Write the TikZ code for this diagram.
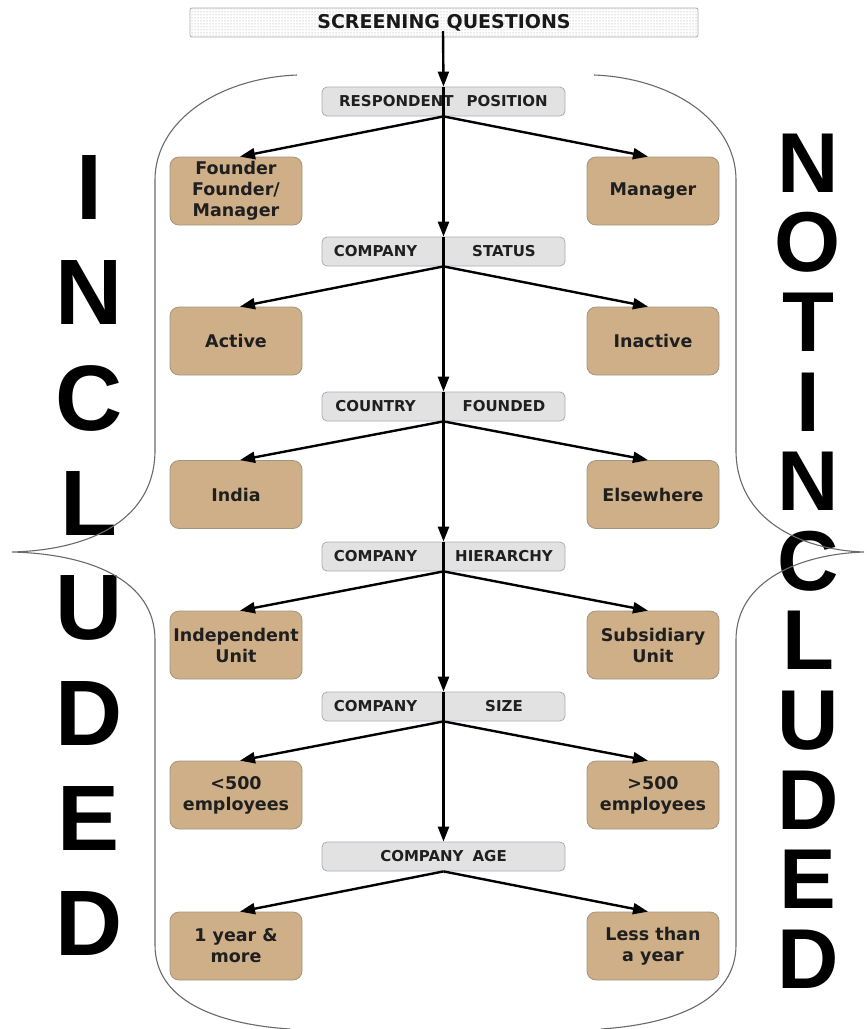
\documentclass[tikz,border=0pt]{standalone}
\usepackage{fontspec}
\setmainfont{DejaVu Sans}
\newfontfamily\letterfont{Liberation Sans}
\usetikzlibrary{arrows.meta,patterns}

\definecolor{kraft}{HTML}{CEAF88}
\definecolor{kraftedge}{HTML}{A39480}
\definecolor{qfill}{HTML}{E2E2E2}
\definecolor{qedge}{HTML}{A8AEB6}
\definecolor{braceline}{HTML}{6A6A6A}

% two words placed in the left and right halves of a question box
\newcommand\splitlabel[2]{\makebox[107pt]{#1}\hspace{14pt}\makebox[122pt]{#2}}

\begin{document}
\begin{tikzpicture}[x=1pt,y=-1pt,
  titlebox/.style={draw=qedge, line width=0.8pt, rounded corners=2pt,
    preaction={fill=white}, pattern=dots, pattern color=black!40,
    minimum width=508pt, minimum height=29pt, inner sep=0pt,
    font=\bfseries\fontsize{19}{19}\selectfont, text=black!90},
  qbox/.style={draw=qedge, line width=0.8pt, fill=qfill, rounded corners=5pt,
    minimum width=243pt, minimum height=29pt, inner sep=0pt,
    font=\bfseries\fontsize{15}{15}\selectfont, text=black!88},
  choice/.style={draw=kraftedge, line width=0.8pt, fill=kraft, rounded corners=9pt,
    minimum width=132pt, minimum height=68pt, inner sep=0pt, align=center,
    font=\bfseries\fontsize{17.5}{21}\selectfont, text=black!88},
  conn/.style={line width=2.4pt, -{Triangle[length=15pt,width=11pt]}},
  trunk/.style={line width=2.6pt},
  bigleft/.style={inner sep=0pt, font=\letterfont\bfseries\fontsize{93}{93}\selectfont},
  bigright/.style={inner sep=0pt, font=\letterfont\bfseries\fontsize{85}{85}\selectfont},
  brace/.style={draw=braceline, line width=1.1pt}
]
\useasboundingbox (0,0) rectangle (867,1029);

% vertical captions
\foreach \ch [count=\i from 0] in {I,N,C,L,U,D,E,D}
  \node[bigleft] (inc\i) at (89,{188+105*\i}) {\ch};
\foreach \ch [count=\i from 0] in {N,O,T,I,N,C,L,U,D,E,D}
  \node[bigright] (ninc\i) at (808,{163+79.6*\i}) {\ch};

% curly braces
\draw[brace] (297,75) .. controls (220,78) and (155,120) .. (155,180)
  -- (155,450) .. controls (155,520) and (90,550) .. (12,552)
  .. controls (90,554) and (155,580) .. (155,640)
  -- (155,945) .. controls (155,1000) and (215,1024) .. (290,1029);
\draw[brace] (594,75) .. controls (671,78) and (736,120) .. (736,180)
  -- (736,450) .. controls (736,520) and (801,550) .. (864,552)
  .. controls (801,554) and (736,580) .. (736,640)
  -- (736,945) .. controls (736,1000) and (676,1024) .. (601,1029);

% title
\node[titlebox] (sq) at (444,22.5) {SCREENING QUESTIONS};
\coordinate (s0) at ([yshift=-8.5pt]sq.center -| 443,0);

% questions
\node[qbox] (rp) at (443.5,101.5) {RESPONDENT\hspace{13pt}POSITION\hspace{7pt}};
\node[qbox] (cs) at (443.5,251.5) {\splitlabel{COMPANY}{STATUS}};
\node[qbox] (cf) at (443.5,406.5) {\splitlabel{COUNTRY}{FOUNDED}};
\node[qbox] (ch) at (443.5,556.5) {\splitlabel{COMPANY}{HIERARCHY}};
\node[qbox] (cz) at (443.5,706.5) {\splitlabel{COMPANY}{SIZE}};
\node[qbox] (ca) at (443.5,856.5) {COMPANY\hspace{9pt}AGE};

% answers
\node[choice] (fo) at (236,191) {Founder\\Founder/\\Manager};
\node[choice] (ma) at (653,191) {Manager};
\node[choice] (ac) at (236,341) {Active};
\node[choice] (in) at (653,341) {Inactive};
\node[choice] (ind) at (236,494.5) {India};
\node[choice] (el) at (653,494.5) {Elsewhere};
\node[choice] (iu) at (236,645) {Independent\\Unit};
\node[choice] (su) at (653,645) {Subsidiary\\Unit};
\node[choice] (lt) at (236,795) {<500\\employees};
\node[choice] (gt) at (653,795) {>500\\employees};
\node[choice] (oy) at (236,946) {1 year \&\\more};
\node[choice] (ly) at (653,946) {Less than\\a year};

% main trunk
\draw[conn] (s0) -- (rp.north);
\draw[trunk] (rp.north) -- (rp.south);
\draw[conn] (rp.south) -- (cs.north);
\draw[trunk] (cs.north) -- (cs.south);
\draw[conn] (cs.south) -- (cf.north);
\draw[trunk] (cf.north) -- (cf.south);
\draw[conn] (cf.south) -- (ch.north);
\draw[trunk] (ch.north) -- (ch.south);
\draw[conn] (ch.south) -- (cz.north);
\draw[trunk] (cz.north) -- (cz.south);
\draw[conn] (cz.south) -- (ca.north);

% branches
\foreach \q/\l/\r in {rp/fo/ma, cs/ac/in, cf/ind/el, ch/iu/su, cz/lt/gt, ca/oy/ly} {
  \draw[conn] (\q.south) -- ([xshift=4pt]\l.north);
  \draw[conn] (\q.south) -- ([xshift=-5pt]\r.north);
}
\end{tikzpicture}
\end{document}
